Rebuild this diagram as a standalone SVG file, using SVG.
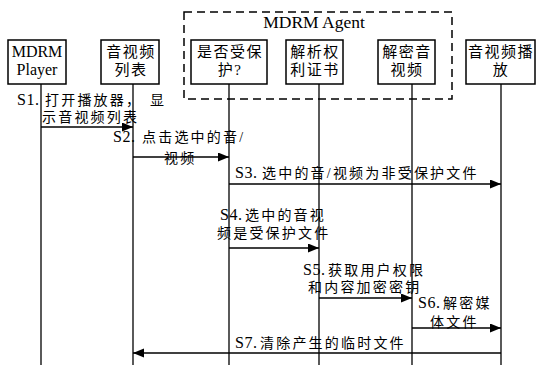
<svg xmlns="http://www.w3.org/2000/svg" width="536" height="365" viewBox="0 0 536 365">
<style>
  .box { fill: #fff; stroke: #000; stroke-width: 1.5; }
  .life { stroke: #000; stroke-width: 1.3; fill: none; }
  .msg { stroke: #000; stroke-width: 1.3; fill: none; marker-end: url(#ah); }
  .t { font-family: "Liberation Serif", "Noto Sans CJK SC", serif; font-size: 14px; fill: #000; letter-spacing: 2.2px; }
  .s { font-size: 16px; letter-spacing: 0.5px; }
  .bt { font-family: "Liberation Serif", "Noto Sans CJK SC", serif; font-size: 15px; fill: #000; text-anchor: middle; letter-spacing: 1.5px; }
  .en { font-family: "Liberation Serif", serif; font-size: 16px; fill: #000; text-anchor: middle; }
</style>
<defs>
  <marker id="ah" markerUnits="userSpaceOnUse" markerWidth="12" markerHeight="10" refX="11" refY="4.5" orient="auto">
    <path d="M0,0 L11,4.5 L0,9 z" fill="#000"/>
  </marker>
</defs>
<rect width="536" height="365" fill="#fff"/>

<g id="agent">
  <rect x="184" y="12" width="268" height="87" fill="none" stroke="#000" stroke-width="1.5" stroke-dasharray="8,5"/>
  <text x="314" y="28" class="en" style="font-size:17.5px">MDRM Agent</text>
</g>

<g id="connectors">
  <line class="life" x1="41" y1="84" x2="41" y2="365"/>
  <line class="life" x1="133" y1="84" x2="133" y2="365"/>
  <line class="life" x1="229" y1="84" x2="229" y2="365"/>
  <line class="life" x1="319" y1="84" x2="319" y2="365"/>
  <line class="life" x1="412" y1="84" x2="412" y2="365"/>
  <line class="life" x1="501" y1="84" x2="501" y2="365"/>
  <line class="msg" x1="41" y1="127" x2="133" y2="127"/>
  <line class="msg" x1="133" y1="157" x2="229" y2="157"/>
  <line class="msg" x1="229" y1="184" x2="501" y2="184"/>
  <line class="msg" x1="229" y1="248" x2="319" y2="248"/>
  <line class="msg" x1="319" y1="298" x2="412" y2="298"/>
  <line class="msg" x1="412" y1="328" x2="501" y2="328"/>
  <line class="msg" x1="501" y1="353" x2="133" y2="353"/>
</g>

<g id="player">
  <rect class="box" x="8" y="40" width="58" height="44"/>
  <text class="en" x="37" y="57">MDRM</text>
  <text class="en" x="37" y="75">Player</text>
</g>
<g id="list">
  <rect class="box" x="101" y="40" width="58" height="44"/>
  <text class="bt" x="131" y="57">音视频</text>
  <text class="bt" x="131" y="75">列表</text>
</g>
<g id="protected">
  <rect class="box" x="191" y="40" width="76" height="44"/>
  <text class="bt" x="230" y="57">是否受保</text>
  <text class="bt" x="230" y="75">护?</text>
</g>
<g id="license">
  <rect class="box" x="286" y="40" width="57" height="44"/>
  <text class="bt" x="315" y="57">解析权</text>
  <text class="bt" x="315" y="75">利证书</text>
</g>
<g id="decrypt">
  <rect class="box" x="378" y="40" width="57" height="44"/>
  <text class="bt" x="407" y="57">解密音</text>
  <text class="bt" x="407" y="75">视频</text>
</g>
<g id="play">
  <rect class="box" x="466" y="40" width="69" height="44"/>
  <text class="bt" x="501" y="57">音视频播</text>
  <text class="bt" x="501" y="75">放</text>
</g>

<g id="labels">
  <text class="t" y="105"><tspan class="s" x="17">S1.</tspan><tspan x="45">打开播放器，</tspan><tspan x="150">显</tspan></text>
  <text class="t" x="42" y="122">示音视频列表</text>
  <text class="t" y="142"><tspan class="s" x="113">S2.</tspan><tspan x="142">点击选中的音/</tspan></text>
  <text class="t" x="164" y="163">视频</text>
  <text class="t" y="178"><tspan class="s" x="235">S3.</tspan><tspan x="262">选中的音/视频为非受保护文件</tspan></text>
  <text class="t" y="220"><tspan class="s" x="220">S4.</tspan><tspan x="245">选中的音视</tspan></text>
  <text class="t" x="217" y="238">频是受保护文件</text>
  <text class="t" y="275"><tspan class="s" x="303">S5.</tspan><tspan x="328">获取用户权限</tspan></text>
  <text class="t" x="308" y="292">和内容加密密钥</text>
  <text class="t" y="308"><tspan class="s" x="418">S6.</tspan><tspan x="443">解密媒</tspan></text>
  <text class="t" x="430" y="327">体文件</text>
  <text class="t" y="348"><tspan class="s" x="235">S7.</tspan><tspan x="260">清除产生的临时文件</tspan></text>
</g>
</svg>
